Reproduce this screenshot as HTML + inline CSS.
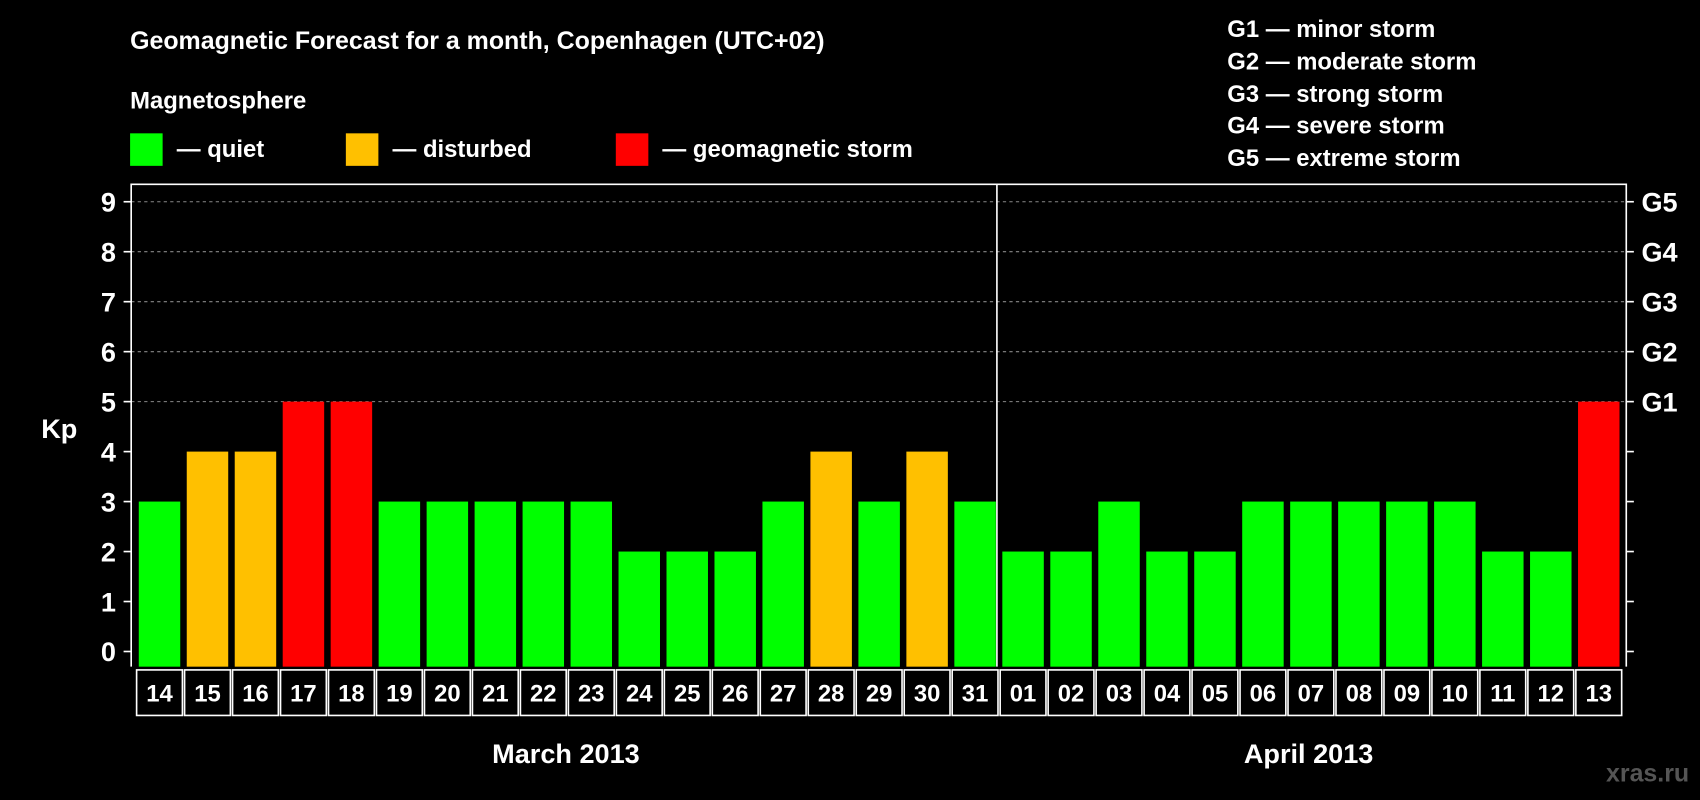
<!DOCTYPE html>
<html><head><meta charset="utf-8"><style>
html,body{margin:0;padding:0;background:#000;width:1700px;height:800px;overflow:hidden}
svg{display:block}
text{font-family:"Liberation Sans",Arial,sans-serif;font-weight:bold;fill:#fff}
</style></head><body>
<svg id="chart" width="1700" height="800" viewBox="0 0 1568 738" preserveAspectRatio="none">
<rect x="0" y="0" width="1568" height="738" fill="#000"/>
<text x="120" y="45" font-size="23">Geomagnetic Forecast for a month, Copenhagen (UTC+02)</text>
<text x="120" y="100" font-size="22">Magnetosphere</text>
<g><rect x="120" y="123" width="30" height="30" fill="#00ff00"/><text x="163" y="145" font-size="22">— quiet</text></g>
<g><rect x="319" y="123" width="30" height="30" fill="#ffc000"/><text x="362" y="145" font-size="22">— disturbed</text></g>
<g><rect x="568" y="123" width="30" height="30" fill="#ff0000"/><text x="611" y="145" font-size="22">— geomagnetic storm</text></g>
<g font-size="22">
<text x="1132" y="34">G1 — minor storm</text>
<text x="1132" y="64">G2 — moderate storm</text>
<text x="1132" y="94">G3 — strong storm</text>
<text x="1132" y="123">G4 — severe storm</text>
<text x="1132" y="153">G5 — extreme storm</text>
</g>
<g id="plot"></g>
<text x="38" y="404" font-size="25">Kp</text>
<text x="522" y="704" font-size="25" text-anchor="middle">March 2013</text>
<text x="1207" y="704" font-size="25" text-anchor="middle">April 2013</text>
<text x="1558" y="721" font-size="23" text-anchor="end" style="fill:#555">xras.ru</text>
</svg>
<script>
const days = ["14","15","16","17","18","19","20","21","22","23","24","25","26","27","28","29","30","31","01","02","03","04","05","06","07","08","09","10","11","12","13"];
const kpValues = [3,4,4,5,5,3,3,3,3,3,2,2,2,3,4,3,4,3,2,2,3,2,2,3,3,3,3,3,2,2,5];
const yTicks = [0,1,2,3,4,5,6,7,8,9];
const gLabels = ["G1","G2","G3","G4","G5"];
const gLevels = [5,6,7,8,9];
const monthSplit = 18;

const NS="http://www.w3.org/2000/svg";
const g=document.getElementById('plot');
const X0=125, SLOT=44.25, Y0=601, UNIT=46.1, PT=170, PB=615, PL=121, PR=1500;
const x=i=>X0+i*SLOT;
const y=v=>Y0-v*UNIT;
function mk(tag,attrs){const e=document.createElementNS(NS,tag);for(const k in attrs)e.setAttribute(k,attrs[k]);g.appendChild(e);return e;}
function col(v){return v>=5?"#ff0000":(v>=4?"#ffc000":"#00ff00");}
// gridlines
yTicks.forEach(v=>{if(v>=5){const l=mk('line',{x1:PL,x2:PR,y1:y(v),y2:y(v),stroke:'#888','stroke-dasharray':'3,3','stroke-width':1});

}});
// bars
kpValues.forEach((v,i)=>{const r=mk('rect',{x:x(i)+3,y:y(v),width:SLOT-6,height:PB-y(v),fill:col(v)});

});
// frame
const fr=mk('path',{d:`M${PL},${PB} V${PT} H${PR} V${PB}`,stroke:'#fff','stroke-width':1.5,fill:'none'});


const dv=mk('line',{x1:x(monthSplit)-2,x2:x(monthSplit)-2,y1:PT,y2:PB,stroke:'#fff','stroke-width':1.5});


// y ticks
yTicks.forEach(v=>{mk('line',{x1:PL-7,x2:PL,y1:y(v),y2:y(v),stroke:'#fff','stroke-width':1.5});
mk('line',{x1:PR,x2:PR+7,y1:y(v),y2:y(v),stroke:'#fff','stroke-width':1.5});
const t=mk('text',{x:PL-14,y:y(v)+9,'font-size':25,'text-anchor':'end'});t.textContent=v;

});
gLevels.forEach((v,i)=>{const t=mk('text',{x:PR+14,y:y(v)+9,'font-size':25});t.textContent=gLabels[i];

});
// date boxes
days.forEach((d,i)=>{const b=mk('rect',{x:x(i)+1,y:618,width:SLOT-2,height:42,fill:'#000',stroke:'#fff','stroke-width':1.5});


const t=mk('text',{x:x(i)+SLOT/2,y:647,'font-size':22,'text-anchor':'middle'});t.textContent=d;

});
</script>
</body></html>
